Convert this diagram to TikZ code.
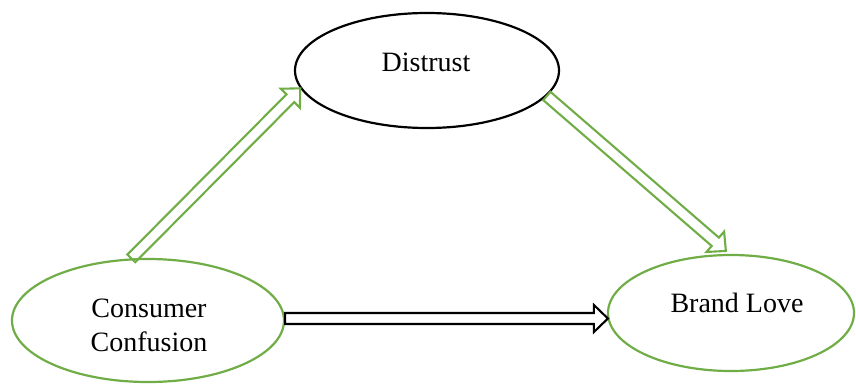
\documentclass[tikz,border=0pt]{standalone}
\usepackage{fontspec}
\setmainfont{Liberation Serif}
\usetikzlibrary{calc,shapes.geometric}
\definecolor{ogreen}{HTML}{70AD47}
\newcommand\blkarrow[3]{%
  \coordinate (bq) at ($(#3)!14pt!(#2)$);
  \draw[#1] ($(#2)!5.5pt!90:(#3)$) -- ($(bq)!5.5pt!90:(#3)$) -- ($(bq)!13.5pt!90:(#3)$) -- (#3)
    -- ($(bq)!13.5pt!-90:(#3)$) -- ($(bq)!5.5pt!-90:(#3)$) -- ($(#2)!5.5pt!-90:(#3)$) -- cycle;
}
\begin{document}
\begin{tikzpicture}[x=1pt,y=-1pt,
  oval/.style={ellipse, draw, line width=2.2pt, inner sep=0pt},
  lbl/.style={font=\fontsize{28}{34}\selectfont, anchor=base, align=center, inner sep=0pt},
  garrow/.style={draw=ogreen, line width=2.1pt, line join=miter},
  karrow/.style={draw=black, line width=2.1pt, line join=miter}]
\useasboundingbox (0,0) rectangle (856,383);
\node[oval, draw=black, minimum width=264pt, minimum height=115pt] (d) at (427,70.5) {};
\node[oval, draw=ogreen, minimum width=272pt, minimum height=123pt] (cc) at (148,320.5) {};
\node[oval, draw=ogreen, minimum width=246pt, minimum height=116pt] (bl) at (731,313) {};
\node[lbl] (dt) at ($(d)+(-1,0.5)$) {Distrust};
\node[lbl] (ct) at ($(cc)+(1,30.5)$) {Consumer\\Confusion};
\node[lbl] (bt) at ($(bl)+(6,-1)$) {Brand Love};
\coordinate (a1s) at (cc.105);
\coordinate (a1e) at (d.188);
\coordinate (a2s) at (d.348);
\coordinate (a2e) at ($(bl.94)+(-1,-3)$);
\coordinate (a3s) at ($(cc.east)+(0,-2)$);
\coordinate (a3e) at ($(bl.west)+(1,5.5)$);
\blkarrow{garrow}{a1s}{a1e}
\blkarrow{garrow}{a2s}{a2e}
\blkarrow{karrow}{a3s}{a3e}
\end{tikzpicture}
\end{document}
